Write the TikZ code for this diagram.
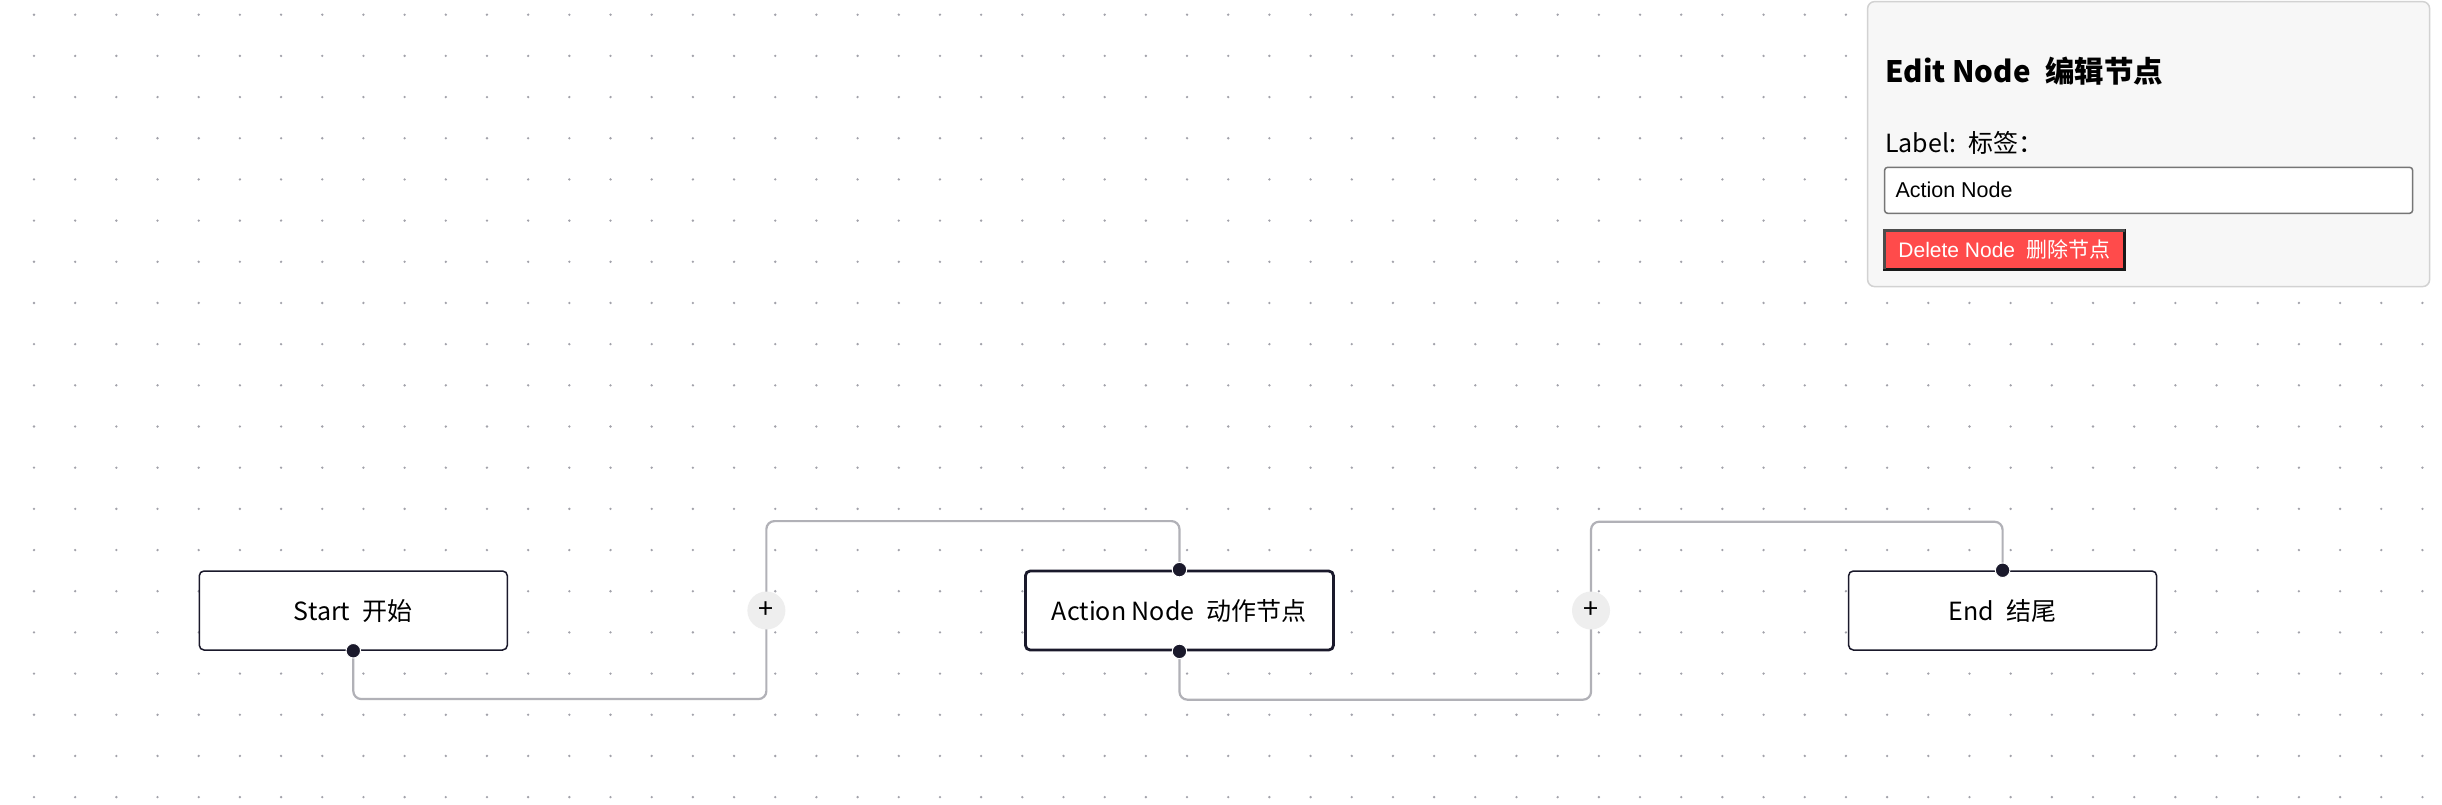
\documentclass[tikz,border=0pt]{standalone}
\usepackage{fontspec}
\usepackage{xcolor}
\usepackage{tikz}
\usetikzlibrary{positioning, calc}
\setmainfont{Noto Sans CJK SC}
\newfontfamily\uifont{Liberation Sans}
\newfontfamily\cjk{Noto Sans CJK SC}
\definecolor{nodeink}{HTML}{1A192B}
\definecolor{edgegray}{HTML}{B1B1B7}
\definecolor{dotgray}{HTML}{A2A2AA}
\definecolor{panelfill}{HTML}{F7F7F7}
\definecolor{panelline}{HTML}{D2D2D2}
\definecolor{inputline}{HTML}{767676}
\definecolor{btnred}{HTML}{FF4B4B}
\definecolor{btnfill}{HTML}{EEEEEE}

\begin{document}
\begin{tikzpicture}[
    x=1pt, y=-1pt,
    flownode/.style={rectangle, rounded corners=4.7pt, draw=nodeink, line width=1.5pt, fill=white, minimum width=308pt, minimum height=79pt, inner sep=0pt, text height=22pt, text depth=2pt, font=\fontsize{25}{30}\selectfont},
    selected/.style={line width=2.8pt},
    handle/.style={circle, fill=nodeink, draw=white, line width=1pt, inner sep=0pt, minimum size=14.5pt},
    edge/.style={draw=edgegray, line width=2.2pt, rounded corners=8pt},
    edgebtn/.style={circle, fill=btnfill, inner sep=0pt, minimum size=38pt, font=\fontsize{27}{27}\selectfont},
    panel/.style={rectangle, rounded corners=7pt, fill=panelfill, draw=panelline, line width=1.5pt, minimum width=562pt, minimum height=285pt},
    paneltext/.style={anchor=base west, inner sep=0pt},
    inputbox/.style={rectangle, rounded corners=3pt, fill=white, draw=inputline, line width=1.5pt, minimum width=528pt, minimum height=46pt},
    delbtn/.style={rectangle, fill=btnred, draw=black!90, line width=3pt, outer sep=0pt, minimum width=240pt, minimum height=39pt, inner sep=0pt, text=white, font=\fontsize{21}{21}\selectfont}
]

% Canvas
\useasboundingbox (0,0) rectangle (2442,804);
\fill[white] (0,0) rectangle (2442,804);
\foreach \i in {0,...,58}
  \foreach \j in {0,...,19}
    \fill[dotgray] (34+41.18*\i, 14.7+41.18*\j) circle (1.3pt);

% Flow nodes
\node[flownode] (start) at (353.3,610.5) {Start\enspace 开始};
\node[flownode, selected, right=516pt of start] (action) {Action Node\enspace 动作节点};
\node[flownode, right=513pt of action] (end) {End\enspace 结尾};

% Edges
\coordinate (add1) at ($(start)!0.5!(action)$);
\coordinate (add2) at ($(action)!0.5!(end)$);
\draw[edge] (start.south) -- ++(0,48.3) -| (add1) |- ($(action.north)+(0,-48.5)$) -- (action.north);
\draw[edge] (action.south) -- ++(0,48.3) -| (add2) |- ($(end.north)+(0,-48.5)$) -- (end.north);
\node[edgebtn] (plus1) at (add1) {+};
\node[edgebtn] (plus2) at (add2) {+};

% Handles
\node[handle] (start-out) at (start.south) {};
\node[handle] (action-in) at (action.north) {};
\node[handle] (action-out) at (action.south) {};
\node[handle] (end-in) at (end.north) {};

% Edit panel
\node[panel] (editpanel) at (2148.6,144.1) {};
\node[paneltext, font=\bfseries\fontsize{29.5}{34}\selectfont] (title) at (1885.2,82.7) {Edit Node\enspace 编辑节点};
\node[paneltext, font=\fontsize{25}{30}\selectfont] (labeltext) at (1885,152.3) {Label:\enspace 标签：};
\node[inputbox] (labelinput) at (2148.6,190.3) {};
\node[paneltext, font=\uifont\fontsize{21.5}{24}\selectfont] (inputtext) at (1895.3,197.3) {Action Node};
\node[delbtn] (delete) at (2004.6,249.6) {{\uifont Delete Node}\hspace{0.55em}删除节点};
\draw[gray!60!black, line width=3pt] (delete.south west) -- (delete.north west) -- (delete.north east);

\end{tikzpicture}
\end{document}
